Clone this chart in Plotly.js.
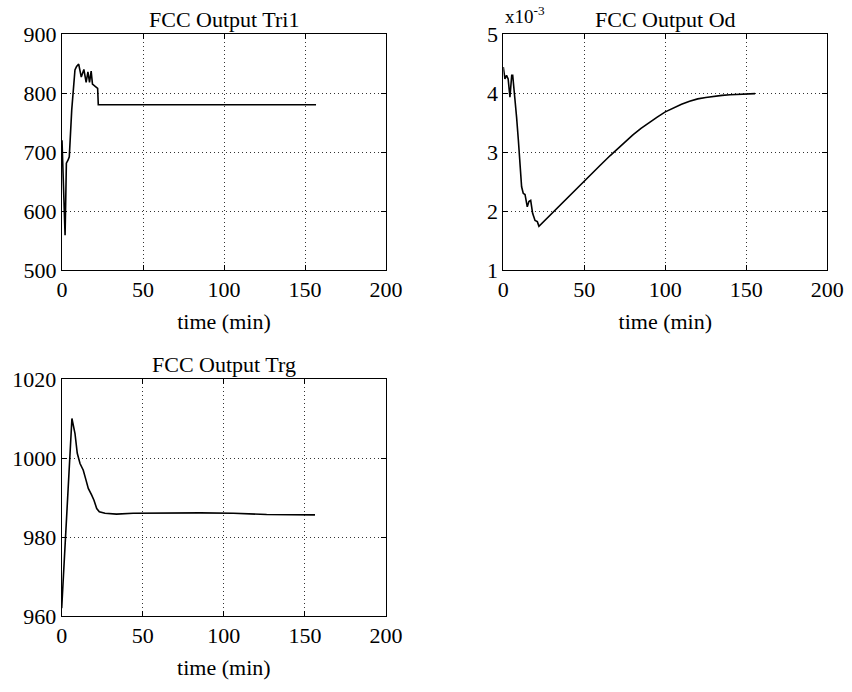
<!DOCTYPE html>
<html>
<head>
<meta charset="utf-8">
<script src="https://cdn.plot.ly/plotly-3.0.1.min.js"></script>
<style>html,body{margin:0;padding:0;background:#fff;}#chart{width:852px;height:692px;}</style>
</head>
<body>
<div id="chart"></div>
<script>
// FCC Output Tri1
const tri1_t = [0, 0.2, 0.8, 1.2, 1.9, 2.3, 2.7, 3.7, 4.5, 6.0, 7.0, 8.0, 9.0, 10.3, 11.9, 13.5, 14.9, 16.0, 17.0, 18.0, 18.8, 20.5, 22.0, 22.4, 30, 60, 100, 130, 156.8];
const tri1_v = [720, 698, 653, 619, 559, 619, 681, 686, 692, 771, 811, 839, 845, 849, 827, 840, 818, 836, 818, 837, 815, 811, 808, 780, 780, 780, 780, 780, 780];

// FCC Output Od (x10^-3)
const od_t = [0, 1, 2, 3, 4.1, 5.2, 5.8, 6.6, 8.2, 9.3, 10.3, 11.3, 12.3, 13.4, 14.8, 15.8, 16.9, 18.1, 19.6, 21.0, 22.0, 35, 50, 60, 66, 70, 75, 80, 85, 90, 95, 100, 105, 110, 115, 120, 125, 130, 135, 140, 145, 150, 155.4];
const od_v = [4.44, 4.24, 4.30, 4.24, 3.93, 4.30, 4.30, 4.10, 3.59, 3.20, 2.86, 2.41, 2.30, 2.28, 2.07, 2.16, 2.18, 1.96, 1.84, 1.82, 1.74, 2.10, 2.51, 2.78, 2.94, 3.04, 3.17, 3.29, 3.40, 3.50, 3.59, 3.68, 3.75, 3.81, 3.86, 3.90, 3.925, 3.945, 3.96, 3.97, 3.98, 3.985, 3.99];

// FCC Output Trg
const trg_t = [0, 2.0, 4.0, 6.3, 8.2, 9.6, 11.3, 13.3, 15.0, 16.4, 18.5, 19.9, 21.6, 23.2, 26.7, 33.8, 44.1, 64.8, 85.4, 105.9, 126.4, 156.2];
const trg_v = [962, 976.5, 992, 1010, 1006.2, 1001.2, 998.6, 996.9, 994.4, 992.3, 990.6, 989.3, 987.2, 986.4, 986.0, 985.8, 986.0, 986.1, 986.1, 986.0, 985.7, 985.6];

const titles = ["FCC Output Tri1", "FCC Output Od", "FCC Output Trg"];
const xTicks = [0, 50, 100, 150, 200];
const tri1Ticks = [500, 600, 700, 800, 900];
const odTicks = [1, 2, 3, 4, 5];
const trgTicks = [960, 980, 1000, 1020];
const xLabel = "time (min)";
const odExponent = "x10<sup>-3</sup>";

const W = 852, H = 692;
const FONT = "Liberation Serif, Times New Roman, serif";
const FS = 22;
const lineStyle = {color: "#000", width: 1.6};

const traces = [
  {x: tri1_t, y: tri1_v, xaxis: "x", yaxis: "y", mode: "lines", line: lineStyle, hoverinfo: "skip"},
  {x: od_t, y: od_v, xaxis: "x2", yaxis: "y2", mode: "lines", line: lineStyle, hoverinfo: "skip"},
  {x: trg_t, y: trg_v, xaxis: "x3", yaxis: "y3", mode: "lines", line: lineStyle, hoverinfo: "skip"}
];

function px(v) { return v / W; }
function py(v) { return 1 - v / H; }

const boxes = [
  {l: 62, r: 386, t: 34, b: 270},
  {l: 503.3, r: 827.3, t: 34, b: 270},
  {l: 61.7, r: 386, t: 379, b: 616}
];

const gridStyle = {showgrid: true, gridcolor: "#333", gridwidth: 1, griddash: "1px,3px"};

function xa(i, anchor) {
  const b = boxes[i];
  return Object.assign({
    domain: [px(b.l), px(b.r)], anchor: anchor, range: [0, 200],
    tickvals: xTicks, ticks: "inside", ticklen: 5, tickcolor: "#000",
    showline: true, linecolor: "#000", linewidth: 1, mirror: "ticks",
    zeroline: false, tickfont: {family: FONT, size: FS, color: "#000"},
    title: {text: xLabel, font: {family: FONT, size: FS, color: "#000"}, standoff: 12},
    fixedrange: true
  }, gridStyle);
}
function ya(i, anchor, range, ticks) {
  const b = boxes[i];
  return Object.assign({
    domain: [py(b.b), py(b.t)], anchor: anchor, range: range,
    tickvals: ticks, ticks: "inside", ticklen: 5, tickcolor: "#000",
    showline: true, linecolor: "#000", linewidth: 1, mirror: "ticks",
    zeroline: false, tickfont: {family: FONT, size: FS, color: "#000"},
    fixedrange: true
  }, gridStyle);
}

const annotations = titles.map((t, i) => ({
  text: t, xref: "paper", yref: "paper",
  x: (px(boxes[i].l) + px(boxes[i].r)) / 2, y: py(boxes[i].t),
  xanchor: "center", yanchor: "bottom", showarrow: false,
  font: {family: FONT, size: FS, color: "#000"}
}));
annotations.push({
  text: odExponent, xref: "paper", yref: "paper",
  x: px(503), y: py(29), xanchor: "left", yanchor: "bottom", showarrow: false,
  font: {family: FONT, size: 19, color: "#000"}
});

const layout = {
  width: W, height: H,
  margin: {l: 0, r: 0, t: 0, b: 0},
  paper_bgcolor: "#fff", plot_bgcolor: "#fff",
  showlegend: false,
  font: {family: FONT, color: "#000"},
  xaxis: xa(0, "y"), yaxis: ya(0, "x", [500, 900], tri1Ticks),
  xaxis2: xa(1, "y2"), yaxis2: ya(1, "x2", [1, 5], odTicks),
  xaxis3: xa(2, "y3"), yaxis3: ya(2, "x3", [960, 1020], trgTicks),
  annotations: annotations
};

Plotly.newPlot("chart", traces, layout, {staticPlot: true, displayModeBar: false});
</script>
</body>
</html>
